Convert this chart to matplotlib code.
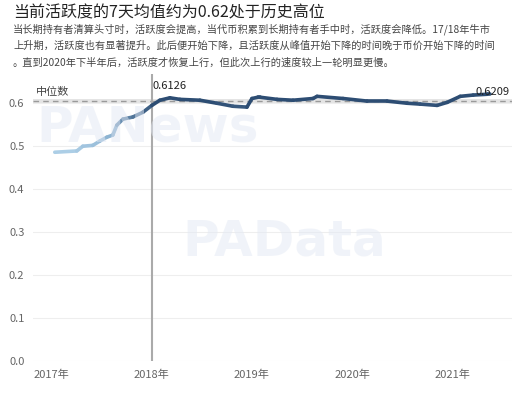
import numpy as np
import matplotlib
matplotlib.use('Agg')
import matplotlib.pyplot as plt
from matplotlib.collections import LineCollection
from matplotlib.colors import LinearSegmentedColormap
from matplotlib import rcParams

rcParams['font.family'] = ['Noto Sans CJK SC', 'DejaVu Sans']

# 7-day mean of activity (decimal year, value)
yrs = [2017.03, 2017.25, 2017.31, 2017.41, 2017.48, 2017.55, 2017.61, 2017.65,
       2017.71, 2017.81, 2017.91, 2018.00, 2018.08, 2018.18, 2018.28, 2018.48,
       2018.65, 2018.81, 2018.95, 2019.00, 2019.06, 2019.08, 2019.25, 2019.41,
       2019.61, 2019.65, 2019.91, 2020.15, 2020.35, 2020.55, 2020.68, 2020.85,
       2020.95, 2021.08, 2021.21, 2021.35, 2021.38]
vals = [0.486, 0.489, 0.500, 0.502, 0.512, 0.521, 0.526, 0.549,
        0.563, 0.568, 0.579, 0.595, 0.607, 0.6126, 0.609, 0.607,
        0.600, 0.593, 0.591, 0.611, 0.614, 0.614, 0.609, 0.607,
        0.611, 0.616, 0.611, 0.605, 0.605, 0.600, 0.598, 0.595,
        0.602, 0.616, 0.619, 0.6209, 0.6209]
median = 0.606
yticks = [0.0, 0.1, 0.2, 0.3, 0.4, 0.5, 0.6]
xticks = [2017, 2018, 2019, 2020, 2021]
xlabels = ['2017年', '2018年', '2019年', '2020年', '2021年']

fig = plt.figure(figsize=(5.2, 4.0), dpi=100)
ax = fig.add_axes([0.063, 0.097, 0.922, 0.718])

# watermarks
fig.text(0.07, 0.645, 'PANews', fontsize=36, color='#e3e9f4', alpha=0.5,
         fontweight='bold', family='DejaVu Sans', zorder=0)
fig.text(0.35, 0.36, 'PAData', fontsize=36, color='#e3e9f4', alpha=0.5,
         fontweight='bold', family='DejaVu Sans', zorder=0)

ax.set_xlim(2016.81, 2021.6)
ax.set_ylim(0, 0.668)
ax.set_yticks(yticks)
ax.set_yticklabels(['%.1f' % v for v in yticks])
ax.set_xticks(xticks)
ax.set_xticklabels(xlabels)
ax.tick_params(length=0, colors='#666666', labelsize=8, pad=6)
ax.grid(axis='y', color='#eeeeee', lw=0.8)
for s in ax.spines.values():
    s.set_visible(False)

# median band and dashed line
ax.axhspan(median - 0.005, median + 0.005, color='#d9d9d9', alpha=0.7, lw=0)
ax.axhline(median, color='#9a9a9a', lw=1, ls=(0, (4, 3)))
ax.text(2016.84, median + 0.012, '中位数', fontsize=8, color='#444444')

# vertical marker
ax.axvline(2018.0, color='#aaaaaa', lw=1.5)

# line, coloured by value
x = np.array(yrs)
y = np.array(vals)
pts = np.array([x, y]).T.reshape(-1, 1, 2)
segs = np.concatenate([pts[:-1], pts[1:]], axis=1)
cmap = LinearSegmentedColormap.from_list('act', ['#b3d3ea', '#7fa8c9', '#2d4d73'])
lc = LineCollection(segs, cmap=cmap, norm=plt.Normalize(0.48, 0.6), lw=2.6,
                    capstyle='round', joinstyle='round')
lc.set_array((y[:-1] + y[1:]) / 2)
ax.add_collection(lc)

ax.text(2018.01, 0.633, '0.6126', fontsize=8, color='#222222')
ax.text(2021.57, 0.620, '0.6209', fontsize=8, color='#222222', ha='right')

fig.text(0.025, 0.968, '当前活跃度的7天均值约为0.62处于历史高位', fontsize=11.5,
         color='#222222', va='center')
sub = ['当长期持有者清算头寸时，活跃度会提高，当代币积累到长期持有者手中时，活跃度会降低。17/18年牛市',
       '上升期，活跃度也有显著提升。此后便开始下降，且活跃度从峰值开始下降的时间晚于币价开始下降的时间',
       '。直到2020年下半年后，活跃度才恢复上行，但此次上行的速度较上一轮明显更慢。']
for i, t in enumerate(sub):
    fig.text(0.025, 0.928 - i * 0.042, t, fontsize=7.35, color='#444444', va='center')

plt.savefig('out.png', dpi=100)
